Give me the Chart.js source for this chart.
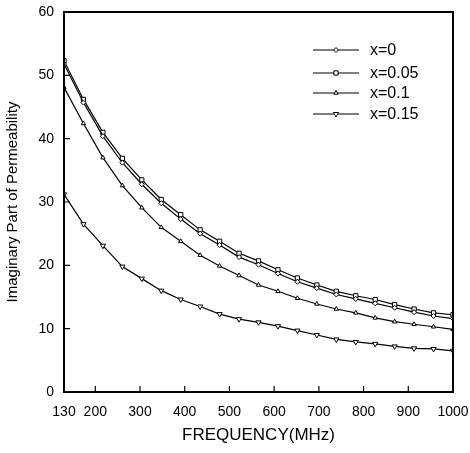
<!DOCTYPE html>
<html>
<head>
<meta charset="utf-8">
<script src="https://cdn.jsdelivr.net/npm/chart.js@4"></script>
<style>
  html, body { margin: 0; padding: 0; background: #fff; }
  #wrap { width: 470px; height: 453px; }
</style>
</head>
<body>
<div id="wrap"><canvas id="chart" width="470" height="453"></canvas></div>
<script>
// DATA
const freqs = [130, 173.5, 217, 260.5, 304, 347.5, 391, 434.5, 478, 521.5, 565,
               608.5, 652, 695.5, 739, 782.5, 826, 869.5, 913, 956.5, 1000];
const xTicks = [130, 200, 300, 400, 500, 600, 700, 800, 900, 1000];
const yTicks = [0, 10, 20, 30, 40, 50, 60];
const labels = ['x=0', 'x=0.05', 'x=0.1', 'x=0.15'];

const mu0   = [51.8, 45.7, 40.4, 36.2, 32.8, 29.8, 27.3, 25.0, 23.2, 21.3, 20.1,
               18.7, 17.4, 16.4, 15.4, 14.7, 14.0, 13.3, 12.6, 12.0, 11.6];
const mu005 = [52.3, 46.2, 41.0, 36.9, 33.5, 30.4, 28.0, 25.6, 23.8, 21.9, 20.7,
               19.3, 18.0, 16.9, 15.9, 15.2, 14.6, 13.8, 13.1, 12.5, 12.2];
const mu01  = [48.1, 42.4, 37.0, 32.6, 29.1, 26.0, 23.8, 21.6, 19.9, 18.4, 16.9,
               15.9, 14.8, 13.9, 13.1, 12.5, 11.7, 11.1, 10.7, 10.3, 9.9];
const mu015 = [31.2, 26.5, 23.1, 19.8, 17.9, 16.0, 14.6, 13.5, 12.3, 11.5, 11.0,
               10.4, 9.7, 9.0, 8.3, 7.9, 7.6, 7.2, 6.9, 6.8, 6.5];

const FONT = "'Liberation Sans', Arial, sans-serif";

function series(label, vals, style, radius, rotation) {
  return {
    label: label,
    data: freqs.map((f, i) => ({ x: f, y: vals[i] })),
    borderColor: '#000',
    borderWidth: 1.2,
    pointStyle: style,
    pointRadius: radius,
    pointRotation: rotation || 0,
    pointBackgroundColor: '#fff',
    pointBorderColor: '#000',
    pointBorderWidth: 1,
    tension: 0
  };
}

// frame, inward ticks and legend
const framePlugin = {
  id: 'frame',
  afterDraw(chart) {
    const ctx = chart.ctx, a = chart.chartArea;
    const xs = chart.scales.x, ys = chart.scales.y;
    ctx.save();
    ctx.strokeStyle = '#000';
    ctx.lineWidth = 2;
    ctx.strokeRect(a.left, a.top, a.right - a.left, a.bottom - a.top);
    ctx.lineWidth = 1.2;
    ctx.beginPath();
    yTicks.slice(1, -1).forEach(v => {
      const y = ys.getPixelForValue(v);
      ctx.moveTo(a.left, y); ctx.lineTo(a.left + 6, y);
    });
    xTicks.slice(1, -1).forEach(v => {
      const x = xs.getPixelForValue(v);
      ctx.moveTo(x, a.bottom); ctx.lineTo(x, a.bottom - 6);
    });
    ctx.stroke();

    // legend
    const rows = [50, 73, 93, 114];
    ctx.font = '16px ' + FONT;
    ctx.fillStyle = '#000';
    ctx.textBaseline = 'middle';
    chart.data.datasets.forEach((ds, i) => {
      const y = rows[i];
      ctx.lineWidth = 1.2;
      ctx.beginPath();
      ctx.moveTo(313, y); ctx.lineTo(359, y);
      ctx.stroke();
      ctx.fillStyle = '#fff';
      ctx.lineWidth = 1;
      Chart.helpers.drawPoint(ctx, {
        pointStyle: ds.pointStyle, radius: ds.pointRadius,
        rotation: ds.pointRotation, borderWidth: 1
      }, 336, y);
      ctx.fillStyle = '#000';
      ctx.fillText(ds.label, 370, y + 1);
    });
    ctx.restore();
  }
};

new Chart(document.getElementById('chart'), {
  type: 'line',
  data: {
    datasets: [
      series(labels[0], mu0, 'rectRot', 2.5),
      series(labels[1], mu005, 'rect', 3),
      series(labels[2], mu01, 'triangle', 2.5),
      series(labels[3], mu015, 'triangle', 3, 180)
    ]
  },
  options: {
    responsive: false,
    animation: false,
    layout: { padding: { left: 0, top: 12, right: 17, bottom: 0 } },
    plugins: { legend: { display: false }, tooltip: { enabled: false } },
    scales: {
      x: {
        type: 'linear',
        min: 130, max: 1000,
        afterBuildTicks: s => { s.ticks = xTicks.map(v => ({ value: v })); },
        afterFit: s => { s.height = 61; s.paddingLeft = 0; s.paddingRight = 0; },
        grid: { display: false, drawTicks: false },
        border: { display: false },
        ticks: {
          color: '#000', font: { family: FONT, size: 14 }, padding: 12,
          maxRotation: 0, autoSkip: false, callback: v => String(v)
        },
        title: {
          display: true, text: 'FREQUENCY(MHz)', color: '#000',
          font: { family: FONT, size: 17 }, padding: { top: 4, bottom: 7 }
        }
      },
      y: {
        min: 0, max: 60,
        afterBuildTicks: s => { s.ticks = yTicks.map(v => ({ value: v })); },
        afterFit: s => { s.width = 64; s.paddingTop = 0; s.paddingBottom = 0; },
        grid: { display: false, drawTicks: false },
        border: { display: false },
        ticks: { color: '#000', font: { family: FONT, size: 14 }, padding: 10 },
        title: {
          display: true, text: 'Imaginary Part of Permeability', color: '#000',
          font: { family: FONT, size: 15 }, padding: 4
        }
      }
    }
  },
  plugins: [framePlugin]
});
</script>
</body>
</html>
